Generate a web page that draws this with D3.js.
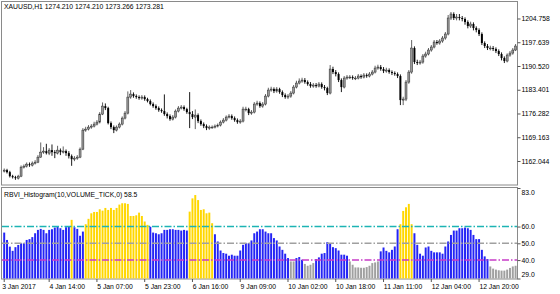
<!DOCTYPE html>
<html>
<head>
<meta charset="utf-8">
<script src="https://cdn.jsdelivr.net/npm/d3@7"></script>
<style>
    html, body { margin: 0; padding: 0; background: #fff; }
    svg { display: block; font-family: "Liberation Sans", Arial, sans-serif; }
</style>
</head>
<body>
<div id="chart"></div>
<script>

var symbolTitle = "XAUUSD,H1  1274.210 1274.210 1273.266 1273.281";
var indicatorTitle = "RBVI_Histogram(10,VOLUME_TICK,0) 58.5";

// bar index where each time label sits
var timeTickIndex = [0, 16, 33, 50, 67, 84, 101, 118, 135, 152, 169];
var timeTickLabels = ["3 Jan 2017", "4 Jan 14:00", "5 Jan 07:00", "5 Jan 23:00", "6 Jan 16:00",
    "9 Jan 09:00", "10 Jan 02:00", "10 Jan 18:00", "11 Jan 11:00", "12 Jan 04:00", "12 Jan 20:00"];

var priceTicks = [1204.758, 1197.639, 1190.520, 1183.401, 1176.282, 1169.163, 1162.044];
var indTicks = [83, 60, 50, 40, 29];

var levels = [60, 50, 40];
var levelColors = ["#1cb4b4", "#a0a0a0", "#c83cc8"];

// XAUUSD H1 candles
var open = [1159.0, 1159.3, 1158.7, 1157.5, 1157.2, 1156.9, 1157.5, 1160.2, 1160.5, 1161.1,
    1160.8, 1161.4, 1161.7, 1163.2, 1164.7, 1165.0, 1164.4, 1165.3, 1164.7, 1164.4,
    1165.3, 1164.7, 1165.0, 1164.4, 1163.5, 1162.6, 1162.9, 1163.2, 1165.6, 1171.3,
    1171.6, 1172.2, 1172.5, 1173.1, 1173.7, 1176.1, 1178.5, 1177.9, 1173.4, 1172.2,
    1171.3, 1172.2, 1173.1, 1174.9, 1176.4, 1181.2, 1182.1, 1181.5, 1181.2, 1180.9,
    1181.2, 1180.6, 1180.0, 1179.1, 1178.5, 1177.9, 1177.3, 1177.0, 1176.1, 1175.5,
    1174.6, 1175.2, 1177.0, 1177.9, 1178.2, 1177.6, 1176.7, 1176.1, 1175.2, 1175.8,
    1174.0, 1173.1, 1172.5, 1171.9, 1172.2, 1172.2, 1172.5, 1172.8, 1173.7, 1174.3,
    1175.2, 1175.5, 1174.9, 1174.3, 1173.7, 1174.0, 1177.6, 1177.6, 1176.4, 1176.7,
    1179.1, 1179.4, 1178.5, 1179.1, 1181.5, 1183.3, 1183.6, 1183.0, 1183.6, 1182.7,
    1181.8, 1181.2, 1181.5, 1182.4, 1184.2, 1185.4, 1186.0, 1186.3, 1185.7, 1185.1,
    1184.5, 1184.8, 1184.5, 1185.1, 1184.2, 1183.9, 1182.4, 1189.6, 1188.7, 1188.1,
    1186.3, 1184.2, 1186.9, 1187.2, 1187.2, 1186.9, 1186.9, 1187.5, 1187.2, 1187.8,
    1187.5, 1188.1, 1188.7, 1189.9, 1190.2, 1189.6, 1189.0, 1189.3, 1188.7, 1188.4,
    1188.1, 1187.5, 1180.3, 1180.6, 1185.7, 1188.7, 1195.9, 1191.7, 1191.4, 1191.7,
    1193.5, 1194.1, 1195.3, 1196.2, 1197.7, 1197.4, 1198.0, 1198.9, 1200.1, 1204.9,
    1206.1, 1204.9, 1205.2, 1204.9, 1204.6, 1203.7, 1202.5, 1203.1, 1201.9, 1201.3,
    1200.1, 1197.4, 1196.5, 1195.9, 1195.9, 1195.6, 1195.0, 1194.1, 1192.9, 1192.0,
    1193.8, 1194.4, 1195.3];

var high = [1159.8, 1159.7, 1159.1, 1157.9, 1157.6, 1157.9, 1160.7, 1161.0, 1161.6, 1161.6,
    1161.9, 1162.3, 1163.8, 1167.6, 1166.2, 1167.2, 1165.9, 1167.0, 1165.3, 1166.6,
    1165.8, 1166.4, 1165.5, 1165.0, 1164.0, 1163.5, 1163.8, 1166.1, 1171.9, 1172.3,
    1172.8, 1173.1, 1173.8, 1174.3, 1176.7, 1179.6, 1179.3, 1178.3, 1173.9, 1172.7,
    1172.7, 1173.6, 1175.4, 1177.0, 1182.9, 1183.3, 1182.6, 1182.0, 1181.7, 1181.8,
    1181.7, 1181.0, 1180.5, 1179.6, 1179.0, 1178.4, 1177.8, 1182.0, 1176.6, 1176.0,
    1175.8, 1177.5, 1178.5, 1178.8, 1178.7, 1178.0, 1182.7, 1177.0, 1177.5, 1176.3,
    1174.5, 1173.6, 1173.0, 1172.7, 1172.7, 1173.0, 1173.3, 1174.2, 1174.9, 1175.7,
    1176.1, 1176.0, 1175.4, 1174.8, 1174.6, 1178.3, 1178.3, 1178.0, 1177.3, 1179.7,
    1180.1, 1179.9, 1179.7, 1182.1, 1184.0, 1184.3, 1184.1, 1184.2, 1184.0, 1183.2,
    1182.3, 1182.1, 1183.0, 1184.8, 1186.1, 1186.8, 1187.0, 1186.9, 1186.2, 1185.7,
    1185.4, 1185.4, 1185.7, 1185.6, 1184.8, 1184.3, 1190.8, 1190.3, 1189.3, 1188.6,
    1186.8, 1187.5, 1187.8, 1187.8, 1187.7, 1187.5, 1188.1, 1188.0, 1188.4, 1188.3,
    1188.7, 1189.3, 1190.6, 1190.9, 1190.8, 1190.2, 1190.0, 1189.8, 1189.2, 1188.9,
    1188.6, 1188.0, 1181.3, 1186.3, 1189.3, 1198.3, 1196.4, 1192.4, 1192.3, 1194.1,
    1194.8, 1195.9, 1196.8, 1198.3, 1198.3, 1198.6, 1199.5, 1200.7, 1205.8, 1206.7,
    1206.6, 1206.1, 1206.1, 1205.5, 1205.1, 1204.2, 1203.8, 1203.6, 1202.4, 1201.8,
    1200.6, 1197.9, 1197.1, 1196.6, 1196.5, 1196.1, 1195.5, 1194.6, 1193.4, 1194.3,
    1195.0, 1195.9, 1197.1];

var low = [1158.6, 1158.3, 1157.1, 1156.8, 1156.4, 1156.5, 1157.2, 1159.8, 1160.1, 1160.3,
    1160.4, 1161.0, 1161.4, 1163.0, 1164.2, 1164.0, 1163.8, 1163.6, 1162.9, 1164.0,
    1163.8, 1164.3, 1163.6, 1162.8, 1160.6, 1162.0, 1162.4, 1162.9, 1165.3, 1170.8,
    1171.2, 1171.7, 1172.1, 1172.7, 1173.3, 1175.8, 1177.3, 1173.0, 1171.6, 1170.4,
    1170.9, 1171.8, 1172.7, 1174.5, 1176.0, 1180.7, 1181.0, 1180.7, 1180.4, 1180.4,
    1180.1, 1179.6, 1178.7, 1178.0, 1177.4, 1176.8, 1176.5, 1175.6, 1174.8, 1174.1,
    1174.2, 1174.8, 1176.6, 1177.5, 1177.1, 1176.2, 1171.9, 1174.6, 1171.6, 1173.4,
    1172.6, 1171.9, 1171.3, 1171.4, 1171.7, 1171.8, 1172.1, 1172.4, 1173.3, 1173.9,
    1174.8, 1174.4, 1173.8, 1173.2, 1173.2, 1173.6, 1176.9, 1175.8, 1175.9, 1176.3,
    1178.6, 1178.0, 1178.0, 1178.7, 1181.1, 1182.8, 1182.4, 1182.5, 1182.2, 1181.2,
    1180.7, 1180.6, 1181.0, 1182.0, 1183.8, 1185.0, 1185.5, 1185.2, 1184.6, 1184.0,
    1184.0, 1184.0, 1184.1, 1183.7, 1183.2, 1181.8, 1182.0, 1188.1, 1187.4, 1185.7,
    1182.7, 1183.8, 1186.4, 1186.6, 1186.4, 1186.3, 1186.5, 1186.7, 1186.8, 1187.0,
    1187.1, 1187.7, 1188.3, 1189.4, 1189.1, 1188.4, 1188.5, 1188.2, 1187.8, 1187.6,
    1186.9, 1178.8, 1178.8, 1180.0, 1185.2, 1188.2, 1191.1, 1190.8, 1190.9, 1191.2,
    1193.0, 1193.7, 1194.8, 1195.8, 1196.9, 1196.9, 1197.5, 1198.4, 1199.7, 1204.3,
    1204.3, 1204.2, 1204.2, 1203.9, 1202.9, 1201.8, 1201.9, 1201.2, 1200.6, 1199.5,
    1196.8, 1195.9, 1195.3, 1195.2, 1195.0, 1194.4, 1193.5, 1192.2, 1191.4, 1191.6,
    1193.3, 1193.9, 1195.0];

var close = [1159.3, 1158.7, 1157.5, 1157.2, 1156.9, 1157.5, 1160.2, 1160.5, 1161.1, 1160.8,
    1161.4, 1161.7, 1163.2, 1164.7, 1165.0, 1164.4, 1165.3, 1164.7, 1164.4, 1165.3,
    1164.7, 1165.0, 1164.4, 1163.5, 1162.6, 1162.9, 1163.2, 1165.6, 1171.3, 1171.6,
    1172.2, 1172.5, 1173.1, 1173.7, 1176.1, 1178.5, 1177.9, 1173.4, 1172.2, 1171.3,
    1172.2, 1173.1, 1174.9, 1176.4, 1181.2, 1182.1, 1181.5, 1181.2, 1180.9, 1181.2,
    1180.6, 1180.0, 1179.1, 1178.5, 1177.9, 1177.3, 1177.0, 1176.1, 1175.5, 1174.6,
    1175.2, 1177.0, 1177.9, 1178.2, 1177.6, 1176.7, 1176.1, 1175.2, 1175.8, 1174.0,
    1173.1, 1172.5, 1171.9, 1172.2, 1172.2, 1172.5, 1172.8, 1173.7, 1174.3, 1175.2,
    1175.5, 1174.9, 1174.3, 1173.7, 1174.0, 1177.6, 1177.6, 1176.4, 1176.7, 1179.1,
    1179.4, 1178.5, 1179.1, 1181.5, 1183.3, 1183.6, 1183.0, 1183.6, 1182.7, 1181.8,
    1181.2, 1181.5, 1182.4, 1184.2, 1185.4, 1186.0, 1186.3, 1185.7, 1185.1, 1184.5,
    1184.8, 1184.5, 1185.1, 1184.2, 1183.9, 1182.4, 1189.6, 1188.7, 1188.1, 1186.3,
    1184.2, 1186.9, 1187.2, 1187.2, 1186.9, 1186.9, 1187.5, 1187.2, 1187.8, 1187.5,
    1188.1, 1188.7, 1189.9, 1190.2, 1189.6, 1189.0, 1189.3, 1188.7, 1188.4, 1188.1,
    1187.5, 1180.3, 1180.6, 1185.7, 1188.7, 1195.9, 1191.7, 1191.4, 1191.7, 1193.5,
    1194.1, 1195.3, 1196.2, 1197.7, 1197.4, 1198.0, 1198.9, 1200.1, 1204.9, 1206.1,
    1204.9, 1205.2, 1204.9, 1204.6, 1203.7, 1202.5, 1203.1, 1201.9, 1201.3, 1200.1,
    1197.4, 1196.5, 1195.9, 1195.9, 1195.6, 1195.0, 1194.1, 1192.9, 1192.0, 1193.8,
    1194.4, 1195.3, 1196.5];

// RBVI histogram value per bar
var rbvi = [56.4, 52, 48, 45.5, 47.7, 49, 50, 50, 52, 52.5,
    53.7, 56, 58, 58.6, 58, 56, 58, 58.4, 59.4, 59.8,
    59, 58, 59.6, 59.9, 64, 59.6, 58.6, 54.5, 57, 61.4,
    64.6, 67.9, 68.7, 68.7, 70.3, 69.5, 71.1, 69.9, 71.1, 69.9,
    71.1, 73.1, 73.9, 73.9, 73.5, 66.3, 66.3, 66.7, 68.3, 66.3,
    63, 61, 59.9, 56.4, 56, 55.4, 56, 58, 58, 58.4,
    58.4, 58, 58, 57.6, 58, 57.6, 68.9, 76.8, 78.8, 75.8,
    69.9, 70.3, 67.9, 68.3, 62, 55.4, 51.1, 45.7, 44.2, 43.8,
    42.6, 43.2, 42.6, 42.6, 45.7, 49.1, 50.1, 50.1, 51.7, 56,
    57, 58.4, 58.4, 57, 56, 56, 53.1, 51.7, 48.1, 46.1,
    43.8, 41.2, 39.2, 39.2, 41.2, 41.8, 40.2, 37.7, 36.6, 37.2,
    38.2, 40.6, 41.6, 43.8, 44.2, 50.7, 49.7, 47.7, 47.1, 45.7,
    43.2, 43.2, 42.6, 39.2, 37.2, 35.6, 35.6, 35.4, 35.4, 35.8,
    36.6, 38.2, 38.6, 39.2, 45.2, 47.5, 45.5, 44.6, 46.1, 48.1,
    58.4, 61.4, 69.3, 71.5, 73.5, 61.4, 56, 49.1, 43.8, 42.6,
    47.5, 48.1, 45.5, 44.6, 44.6, 44.6, 43.8, 48.1, 51.1, 55,
    57.6, 57.6, 59, 59, 59.4, 59, 58, 55, 52.5, 52.5,
    46.1, 42.2, 40.6, 36.2, 34.9, 34.3, 33.9, 33.7, 33.7, 34.3,
    35.3, 36.2, 36.6];

var width = 560, height = 294;
var plotLeft = 1, plotRight = 517;
var mainTop = 1, mainBottom = 184.5;
var indTop = 187, indBottom = 278.5;

var svg = d3.select("#chart").append("svg")
    .attr("width", width)
    .attr("height", height);

var x = d3.scaleBand()
    .domain(d3.range(close.length))
    .range([2.8, plotRight])
    .paddingInner(0.3)
    .paddingOuter(0.15);

var yMain = d3.scaleLinear()
    .domain([1155.0, 1210.0])
    .range([mainBottom, mainTop]);

var yInd = d3.scaleLinear()
    .domain([29, 83])
    .range([indBottom, 188]);

function barColor(v) {
    if (v > 60) return "#ffd700";
    if (v < 40) return "#a0a0a0";
    return "#2424f5";
}

// panel frames
svg.append("rect")
    .attr("x", plotLeft + 0.5).attr("y", mainTop + 0.5)
    .attr("width", plotRight - plotLeft).attr("height", mainBottom - mainTop)
    .style("fill", "none").style("stroke", "#8a8a8a");

svg.append("rect")
    .attr("x", plotLeft + 0.5).attr("y", indTop + 0.5)
    .attr("width", plotRight - plotLeft).attr("height", indBottom - indTop)
    .style("fill", "none").style("stroke", "#8a8a8a");

// candles
var bw = x.bandwidth();
var candles = svg.append("g").attr("class", "candles");

candles.selectAll(".wick")
    .data(close)
    .enter()
    .append("line")
    .attr("class", "wick")
    .attr("x1", function (d, i) { return x(i) + bw / 2; })
    .attr("x2", function (d, i) { return x(i) + bw / 2; })
    .attr("y1", function (d, i) { return yMain(high[i]); })
    .attr("y2", function (d, i) { return yMain(low[i]); })
    .style("stroke", function (d, i) { return d >= open[i] ? "#505050" : "#000"; })
    .style("stroke-width", 0.9);

candles.selectAll(".body")
    .data(close)
    .enter()
    .append("rect")
    .attr("class", "body")
    .attr("x", function (d, i) { return x(i); })
    .attr("width", bw)
    .attr("y", function (d, i) { return yMain(Math.max(open[i], d)); })
    .attr("height", function (d, i) {
        return Math.max(0.8, Math.abs(yMain(open[i]) - yMain(d)));
    })
    .style("fill", function (d, i) { return d >= open[i] ? "#989898" : "#000"; })
    .style("stroke", function (d, i) { return d >= open[i] ? "#2a2a2a" : "none"; })
    .style("stroke-width", 0.5);

// histogram
svg.append("g").selectAll(".bar")
    .data(rbvi)
    .enter()
    .append("rect")
    .attr("class", "bar")
    .attr("x", function (d, i) { return x(i); })
    .attr("width", bw)
    .attr("y", function (d) { return yInd(d); })
    .attr("height", function (d) { return indBottom - yInd(d); })
    .style("fill", function (d) { return barColor(d); });

// level lines sit over the histogram
svg.append("g").selectAll("line")
    .data(levels)
    .enter()
    .append("line")
    .attr("x1", plotLeft + 1)
    .attr("x2", plotRight)
    .attr("y1", function (d) { return yInd(d); })
    .attr("y2", function (d) { return yInd(d); })
    .style("stroke", function (d, i) { return levelColors[i]; })
    .style("stroke-width", 1.5)
    .style("stroke-dasharray", "7,2,1.5,2");

// right price axis
var priceAxis = d3.axisRight(yMain)
    .tickValues(priceTicks)
    .tickFormat(d3.format(".3f"))
    .tickSize(3)
    .tickPadding(1);

var gPrice = svg.append("g")
    .attr("transform", "translate(" + (plotRight + 0.5) + ",0)")
    .call(priceAxis)
    .style("font-size", "6.8px");

var indAxis = d3.axisRight(yInd)
    .tickValues(indTicks)
    .tickFormat(d3.format(".1f"))
    .tickSize(3)
    .tickPadding(1);

var gInd = svg.append("g")
    .attr("transform", "translate(" + (plotRight + 0.5) + ",0)")
    .call(indAxis)
    .style("font-size", "6.8px");

// keep the max / min labels inside the panel like the terminal does
gInd.selectAll(".tick text")
    .attr("dy", function (d) {
        if (d === 83) return "0.9em";
        if (d === 29) return "-0.25em";
        return "0.32em";
    });

// time axis
var timeAxis = d3.axisBottom(x)
    .tickValues(timeTickIndex)
    .tickFormat(function (d, i) { return timeTickLabels[i]; })
    .tickSize(3)
    .tickPadding(2);

var gTime = svg.append("g")
    .attr("transform", "translate(0," + (indBottom + 0.5) + ")")
    .call(timeAxis)
    .style("font-size", "6.8px");

gTime.selectAll(".tick text")
    .style("text-anchor", "start")
    .attr("dx", function (d) { return d === 0 ? "-0.3em" : "0.05em"; });

[gPrice, gInd, gTime].forEach(function (g) {
    g.select(".domain").remove();
    g.selectAll(".tick line").style("stroke", "#555");
    g.selectAll(".tick text").style("fill", "#000");
});

// panel captions
svg.append("text")
    .attr("x", 4).attr("y", 9)
    .style("font-size", "6.8px")
    .text(symbolTitle);

svg.append("text")
    .attr("x", 4).attr("y", 196.5)
    .style("font-size", "6.8px")
    .text(indicatorTitle);

</script>
</body>
</html>
